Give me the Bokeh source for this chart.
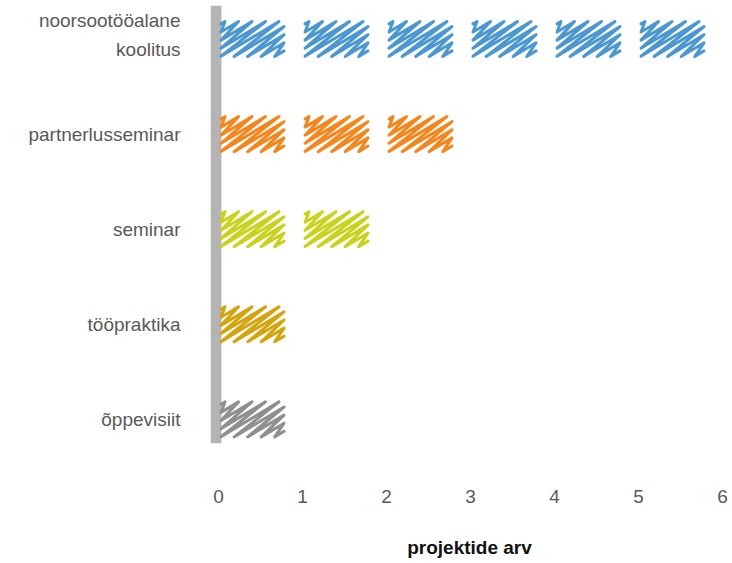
from bokeh.plotting import figure
from bokeh.models import Range1d, FixedTicker
from bokeh.embed import file_html
from bokeh.resources import INLINE

# ---- data ----
categories = ["noorsootööalane\nkoolitus", "partnerlusseminar", "seminar", "tööpraktika", "õppevisiit"]
counts = [6, 3, 2, 1, 1]
colors = ["#4a97d1", "#f4861e", "#c9d21c", "#d4a40e", "#8f8f8f"]
x_ticks = [0, 1, 2, 3, 4, 5, 6]
x_title = "projektide arv"

# ---- geometry (style) ----
PX_X = 84.0          # pixels per unit on x
ROW = 100            # y units per row
PX_PER_Y = 0.951     # pixels per y unit
ICON_W = 63.0
ICON_H = 35.0
SLOPE = 0.6
STEP = 13.5
LINE_GAP = 15        # y units between lines of a two-line label
LABEL_SHIFT = -4     # y units shift of multi-line label block


def icon_path(x0, yc):
    """Zigzag sketch fill of one icon whose left edge is x0 (data), centred at yc."""
    xs, ys = [], []
    c = -ICON_H / SLOPE + 4
    while c < ICON_W - 2:
        lo = (c, 0.0) if c >= 0 else (0.0, -c * SLOPE)
        xh = c + ICON_H / SLOPE
        hi = (xh, ICON_H) if xh <= ICON_W else (ICON_W, (ICON_W - c) * SLOPE)
        for px, py in (lo, hi):
            xs.append(x0 + px / PX_X)
            ys.append(yc + (ICON_H / 2 - py) / PX_PER_Y)
        c += STEP
    return xs, ys


mxs, mys, mcol = [], [], []
for row, (n, col) in enumerate(zip(counts, colors)):
    for k in range(n):
        xs, ys = icon_path(k + 0.03, row * ROW)
        mxs.append(xs)
        mys.append(ys)
        mcol.append(col)

# tick labels (two-line labels split into two right-aligned ticks)
tick_pos, tick_lab = [], []
for row, cat in enumerate(categories):
    lines = cat.split("\n")
    n = len(lines)
    for j, line in enumerate(lines):
        off = int(round((j - (n - 1) / 2) * 2 * LINE_GAP)) + (LABEL_SHIFT if n > 1 else 0)
        pos = row * ROW + off
        tick_pos.append(pos)
        tick_lab.append(line)

frame_w = 518
x_start = -8 / PX_X
x_end = x_start + frame_w / PX_X
frame_h = 438
top_pad = 33.5 / PX_PER_Y
y_end = -top_pad
y_start = frame_h / PX_PER_Y - top_pad

p = figure(
    frame_width=frame_w, frame_height=frame_h,
    x_range=Range1d(x_start, x_end), y_range=Range1d(y_start, y_end),
    output_backend="svg", toolbar_location=None,
    min_border_left=210, min_border_right=0, min_border_top=5, min_border_bottom=10,
)
p.outline_line_color = None
p.xgrid.visible = False
p.ygrid.visible = False

# grey baseline bar
p.quad(left=[x_start], right=[0.035], bottom=[y_start], top=[y_end],
       fill_color="#b4b4b4", line_color=None)

p.multi_line(xs=mxs, ys=mys, line_color=mcol, line_width=3,
             line_cap="round", line_join="round")

# x axis
p.xaxis.ticker = FixedTicker(ticks=x_ticks)
p.xaxis.axis_line_color = None
p.xaxis.major_tick_line_color = None
p.xaxis.minor_tick_line_color = None
p.xaxis.major_label_standoff = 40
p.xaxis.major_label_text_font = "Liberation Sans"
p.xaxis.major_label_text_font_size = "19px"
p.xaxis.major_label_text_color = "#595959"
p.xaxis.axis_label = x_title
p.xaxis.axis_label_text_font = "Liberation Sans"
p.xaxis.axis_label_text_font_size = "19px"
p.xaxis.axis_label_text_font_style = "bold"
p.xaxis.axis_label_text_color = "#111111"
p.xaxis.axis_label_standoff = 31

# y axis
p.yaxis.ticker = FixedTicker(ticks=tick_pos)
p.yaxis.major_label_overrides = dict(zip(tick_pos, tick_lab))
p.yaxis.axis_line_color = None
p.yaxis.major_tick_line_color = None
p.yaxis.minor_tick_line_color = None
p.yaxis.major_label_standoff = 24
p.yaxis.major_label_text_font = "Liberation Sans"
p.yaxis.major_label_text_font_size = "19px"
p.yaxis.major_label_text_color = "#595959"

open("out.html", "w").write(file_html(p, INLINE))
